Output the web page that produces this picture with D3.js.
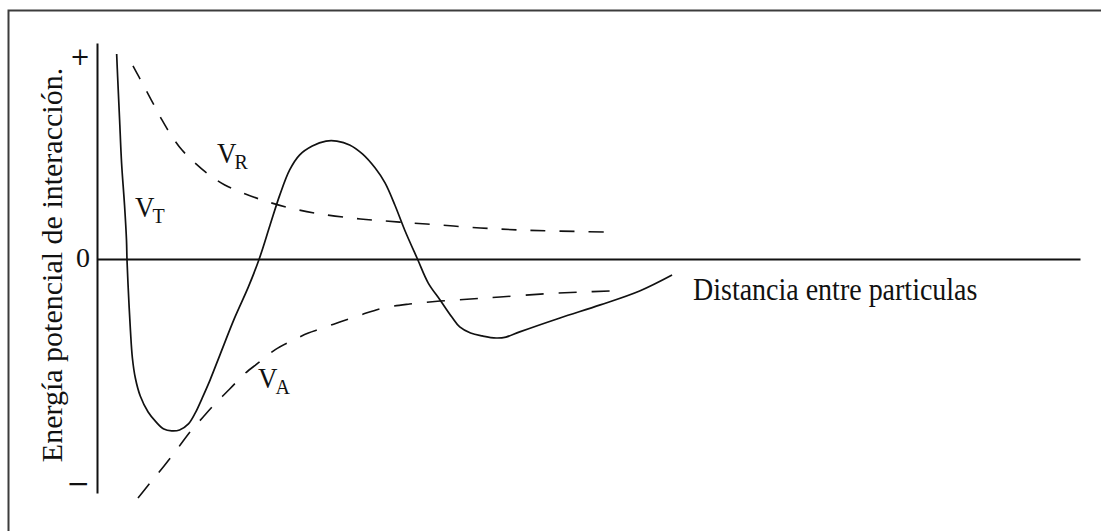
<!DOCTYPE html>
<html>
<head>
<meta charset="utf-8">
<script src="https://cdn.jsdelivr.net/npm/d3@7"></script>
<style>
  html, body { margin: 0; padding: 0; background: #ffffff; }
  svg { display: block; }
  text { font-family: "Liberation Serif", "Times New Roman", serif; fill: #111; }
  .energy-axis .tick text { font-size: 28px; }
  .energy-axis .tick.sign text { font-family: "DejaVu Serif", serif; font-size: 24px; }
  .energy-axis .tick.minus text { font-size: 28px; }
</style>
</head>
<body>
<svg id="chart" width="1101" height="531"></svg>
<script>
// Energy units: 0 is the zero line, "+" and "−" mark the ends of the energy axis.
const yTickValues = [90, 0, -100];
const yTickLabels = ["+", "0", "\u2212"];

// Total interaction energy V_T as a function of particle separation
const totalX = [2.0, 2.1, 2.3, 2.5, 2.8, 3.0, 3.05, 3.15, 3.4, 3.6, 3.9, 4.4, 5.2, 6.0, 6.8, 7.6, 8.4, 9.3, 10.0, 10.7, 11.5, 12.5, 14.0, 15.4, 16.5, 17.6, 18.6, 19.6, 20.6, 21.9, 23.3, 24.4, 25.7, 27.0, 28.3, 29.3, 30.3, 31.3, 32.6, 33.7, 34.9, 36.1, 36.9, 38.0, 39.2, 40.6, 41.6, 43.0, 47.1, 51.2, 55.2, 58.5];
const totalY = [91.1, 80.9, 61.8, 42.7, 24.0, 8.4, 0, -10.7, -31.6, -44.0, -52.9, -60.9, -68.0, -72.4, -75.6, -76.4, -76.0, -73.3, -68.4, -61.8, -53.8, -42.7, -26.2, -12.4, 0, 15.0, 28.5, 39.6, 46.2, 50.2, 52.4, 52.4, 50.7, 46.7, 40.4, 33.8, 24.0, 12.9, 0, -10.7, -18.2, -25.8, -30.2, -32.9, -34.2, -35.1, -34.7, -32.4, -26.2, -20.4, -14.2, -7.1];

// Repulsive energy V_R
const repulsiveX = [3.66, 4.27, 4.98, 5.80, 6.61, 7.53, 8.65, 9.97, 11.3, 13.0, 15.1, 17.1, 19.6, 22.7, 26.8, 30.8, 34.9, 39.0, 43.0, 47.1, 51.8];
const repulsiveY = [85.8, 80.9, 75.1, 68.4, 61.8, 55.1, 48.4, 42.7, 37.8, 32.9, 28.9, 25.8, 22.7, 20.0, 17.8, 16.4, 15.1, 13.8, 12.9, 12.4, 12.0];

// Attractive energy V_A
const attractiveX = [4.17, 5.39, 6.82, 8.24, 9.46, 10.8, 12.0, 13.5, 15.0, 16.4, 18.1, 19.8, 21.5, 22.7, 24.7, 26.8, 29.1, 31.8, 34.9, 38.0, 41.0, 45.1, 49.1, 52.5];
const attractiveY = [-106.2, -99.6, -92.0, -84.0, -76.9, -70.2, -64.4, -57.8, -51.1, -46.2, -40.4, -36.4, -32.9, -31.1, -28.0, -24.9, -21.8, -20.0, -18.7, -17.8, -16.9, -15.6, -14.7, -14.2];

const svg = d3.select("#chart");

// Outer frame
svg.append("rect")
  .attr("x", 8.5).attr("y", 10.5)
  .attr("width", 1200).attr("height", 600)
  .attr("fill", "none")
  .attr("stroke", "#3c3c3c")
  .attr("stroke-width", 2);

const x = d3.scaleLinear().domain([0, 100]).range([97, 1080]);
const y = d3.scaleLinear().domain([-104, 96]).range([493, 43]);

// Energy axis
const yAxis = d3.axisLeft(y)
  .tickValues(yTickValues)
  .tickFormat((d, i) => yTickLabels[i])
  .tickSize(0)
  .tickSizeOuter(0)
  .tickPadding(7);

const gy = svg.append("g")
  .attr("class", "energy-axis")
  .attr("transform", `translate(${x(0)},0)`)
  .call(yAxis);
gy.attr("font-size", null).attr("font-family", null);
gy.select(".domain").attr("stroke", "#111").attr("stroke-width", 2);
gy.selectAll(".tick")
  .classed("sign", d => d !== 0)
  .classed("minus", d => d < 0);
gy.selectAll(".tick text").attr("fill", "#111");
gy.selectAll(".tick").filter(d => d === 0).select("text").attr("dy", "0.25em");

// Distance axis at zero energy
const xAxis = d3.axisBottom(x).tickValues([]).tickSizeOuter(0);
const gx = svg.append("g")
  .attr("transform", `translate(0,${y(0)})`)
  .call(xAxis);
gx.select(".domain").attr("stroke", "#111").attr("stroke-width", 2);

// Curves
const line = d3.line()
  .x(d => x(d[0]))
  .y(d => y(d[1]))
  .curve(d3.curveCatmullRom.alpha(0.5));

const zip = (xs, ys) => xs.map((v, i) => [v, ys[i]]);

svg.append("path")
  .datum(zip(repulsiveX, repulsiveY))
  .attr("d", line)
  .attr("fill", "none")
  .attr("stroke", "#111")
  .attr("stroke-width", 1.6)
  .attr("stroke-dasharray", "15,14");

svg.append("path")
  .datum(zip(attractiveX, attractiveY))
  .attr("d", line)
  .attr("fill", "none")
  .attr("stroke", "#111")
  .attr("stroke-width", 1.6)
  .attr("stroke-dasharray", "18,15");

svg.append("path")
  .datum(zip(totalX, totalY))
  .attr("d", line)
  .attr("fill", "none")
  .attr("stroke", "#111")
  .attr("stroke-width", 1.7);

// Curve labels with subscripts (serif glyphs drawn slightly tall)
function curveLabel(px, py, sub) {
  const t = svg.append("text")
    .attr("transform", `translate(${px},${py}) scale(1,1.1)`)
    .style("font-size", "27px");
  t.append("tspan").text("V");
  t.append("tspan")
    .style("font-size", "20px")
    .attr("dx", -2)
    .attr("dy", 5)
    .text(sub);
}
curveLabel(217, 163, "R");
curveLabel(135, 217, "T");
curveLabel(258, 388, "A");

// Axis titles
svg.append("text")
  .attr("transform", "translate(693,300) scale(1,1.1)")
  .style("font-size", "28px")
  .text("Distancia entre particulas");

svg.append("text")
  .attr("transform", "translate(62,265) rotate(-90)")
  .attr("text-anchor", "middle")
  .style("font-size", "30px")
  .text("Energía potencial de interacción.");
</script>
</body>
</html>
